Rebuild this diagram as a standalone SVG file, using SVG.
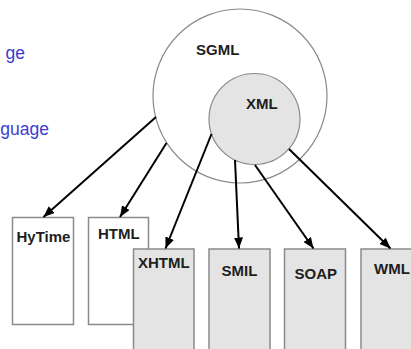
<svg xmlns="http://www.w3.org/2000/svg" width="411" height="349" viewBox="0 0 411 349">
<defs>
<marker id="ah" markerUnits="userSpaceOnUse" markerWidth="12" markerHeight="10" refX="11" refY="4.5" orient="auto">
<path d="M0,0 L11,4.5 L0,9 z" fill="#000"/>
</marker>
<style>
.lbl{font-family:"Liberation Sans",Arial,sans-serif;font-weight:bold;font-size:15px;fill:#1e1e1e}
.side{font-family:"Liberation Sans",Arial,sans-serif;font-size:17.5px;fill:#3c3cd2}
.box{stroke:#8a8a8a;stroke-width:1.5}
.w{fill:#fff}
.g{fill:#e4e4e4}
.conn line{stroke:#000;stroke-width:2;marker-end:url(#ah)}
</style>
</defs>
<rect width="411" height="349" fill="#fff"/>
<text class="side" x="25" y="59" text-anchor="end">ge</text>
<text class="side" x="49" y="135" text-anchor="end">guage</text>
<g id="SGML">
<circle cx="240" cy="96" r="87" fill="#fff" stroke="#8a8a8a" stroke-width="1.2"/>
<text class="lbl" x="196" y="55">SGML</text>
</g>
<g id="XML">
<circle cx="254.5" cy="119" r="45.5" fill="#e4e4e4" stroke="#8a8a8a" stroke-width="1.2"/>
<text class="lbl" x="246" y="109">XML</text>
</g>
<g id="HyTime">
<rect class="box w" x="12.5" y="217.5" width="61" height="107"/>
<text class="lbl" x="16.5" y="241.5">HyTime</text>
</g>
<g id="HTML">
<rect class="box w" x="88.5" y="217.5" width="60" height="107"/>
<text class="lbl" x="98" y="239">HTML</text>
</g>
<g id="XHTML">
<rect class="box g" x="133.5" y="249" width="60.5" height="110"/>
<text class="lbl" x="138" y="268">XHTML</text>
</g>
<g id="SMIL">
<rect class="box g" x="209" y="249" width="61" height="110"/>
<text class="lbl" x="221.5" y="276">SMIL</text>
</g>
<g id="SOAP">
<rect class="box g" x="284.5" y="249" width="61" height="110"/>
<text class="lbl" x="294.5" y="279">SOAP</text>
</g>
<g id="WML">
<rect class="box g" x="361" y="249" width="61" height="110"/>
<text class="lbl" x="374" y="273.5">WML</text>
</g>
<g class="conn" id="connectors">
<line x1="156" y1="117" x2="43.5" y2="217"/>
<line x1="166.5" y1="143" x2="120" y2="217"/>
<line x1="211.5" y1="134" x2="165.5" y2="248.5"/>
<line x1="235" y1="160" x2="239" y2="248.5"/>
<line x1="255" y1="165" x2="313.5" y2="248.5"/>
<line x1="289" y1="149" x2="390.5" y2="248.5"/>
</g>
</svg>
